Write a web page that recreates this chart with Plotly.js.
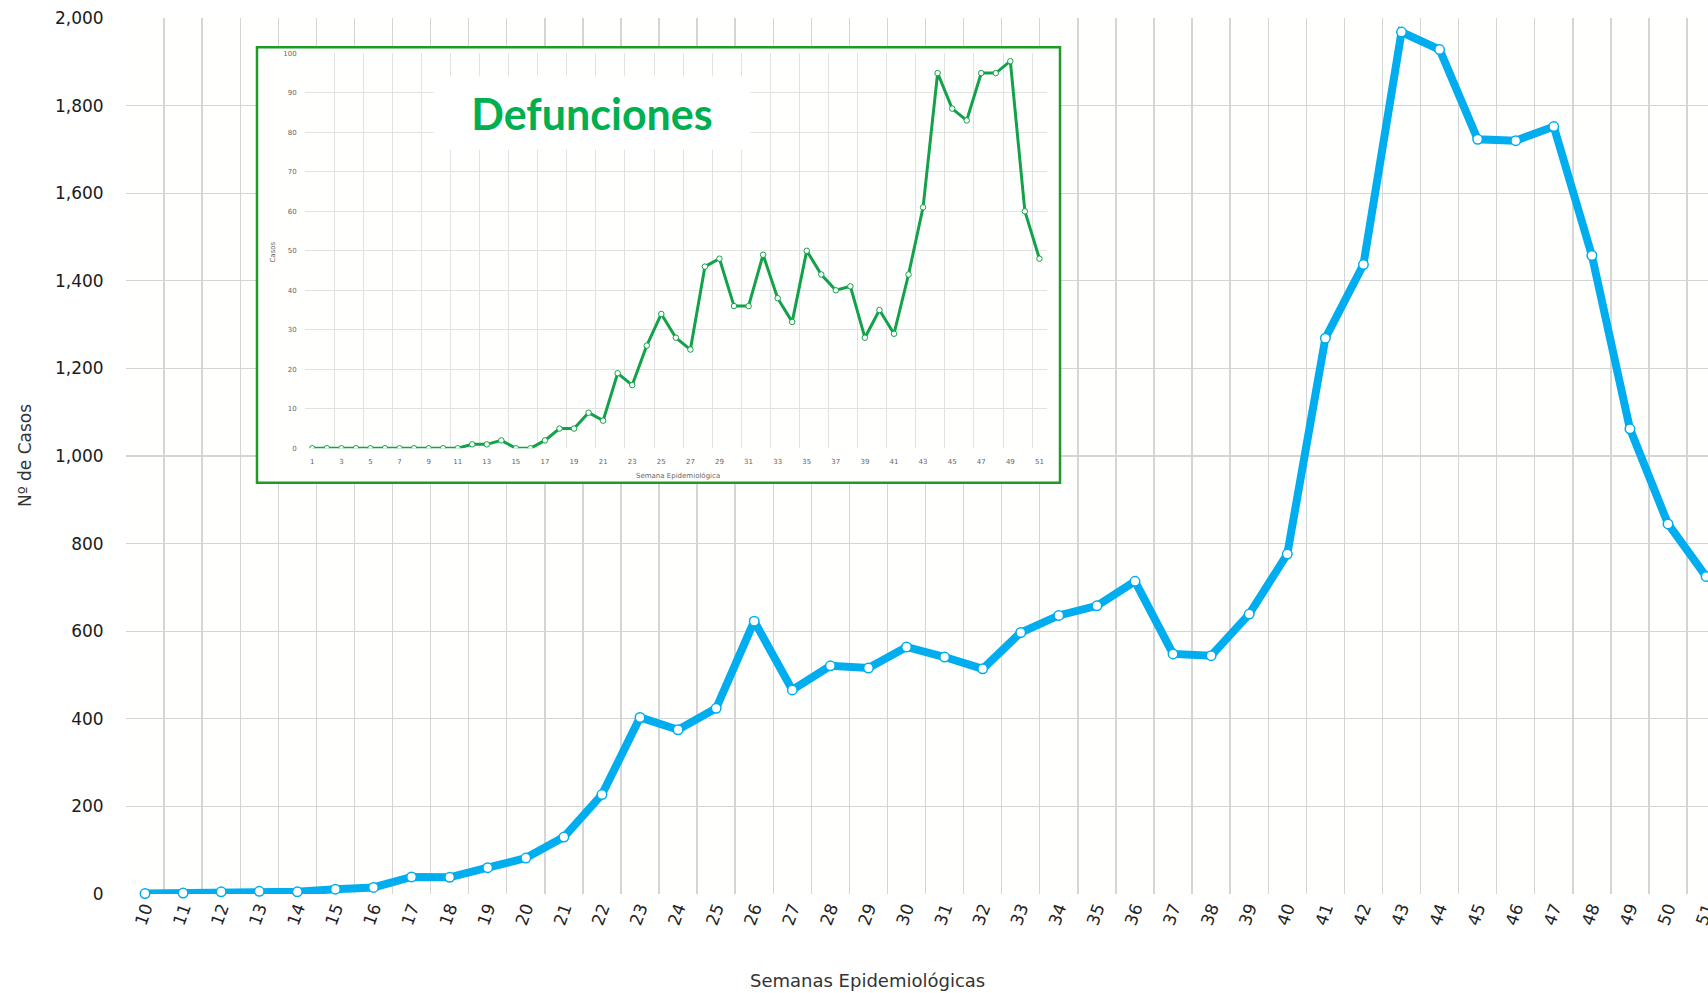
<!DOCTYPE html>
<html>
<head>
<meta charset="utf-8">
<script src="https://cdn.plot.ly/plotly-3.0.1.min.js"></script>
<style>html,body{margin:0;padding:0;background:#fff;}#chart{width:1708px;height:993px;}</style>
</head>
<body>
<div id="chart"></div>
<script>
// ---- Main chart data: cases per epidemiological week ----
var weeks = ["10","11","12","13","14","15","16","17","18","19","20","21","22","23","24","25","26","27","28","29","30","31","32","33","34","35","36","37","38","39","40","41","42","43","44","45","46","47","48","49","50","51"];
var cases = [1,2,5,6,5,11,15,39,38,60,82,130,227,403,375,424,623,466,521,516,564,541,514,597,636,658,714,548,544,639,776,1269,1437,1968,1928,1723,1720,1752,1458,1062,845,725];

// ---- Inset data: deaths per epidemiological week ----
var deathWeeks = [1,2,3,4,5,6,7,8,9,10,11,12,13,14,15,16,17,18,19,20,21,22,23,24,25,26,27,28,29,30,31,32,33,34,35,36,37,38,39,40,41,42,43,44,45,46,47,48,49,50,51];
var deaths = [0,0,0,0,0,0,0,0,0,0,0,1,1,2,0,0,2,5,5,9,7,19,16,26,34,28,25,46,48,36,36,49,38,32,50,44,40,41,28,35,29,44,61,95,86,83,95,95,98,60,48];
var deathTickLabels = ["1","3","5","7","9","11","13","15","17","19","21","23","25","27","29","31","33","35","37","39","41","43","45","47","49","51"];

var titleMain = "Semanas Epidemiológicas";
var titleY = "Nº de Casos";
var insetTitle = "Defunciones";
var insetX = "Semana Epidemiológica";
var insetY = "Casos";

// inset tick positions (labels on odd weeks, grid on boundaries)
var insetLabelVals = deathTickLabels.map(Number);
var insetGridVals = insetLabelVals.map(function(v){ return v - 0.5; });
insetGridVals.push(51.5);

var blue = "#00ADEE";
var green = "#12A24A";

var traces = [
  {
    x: weeks, y: cases, xaxis: "x", yaxis: "y",
    type: "scatter", mode: "lines+markers",
    line: {color: blue, width: 8},
    marker: {color: "#ffffff", size: 9.5, line: {color: blue, width: 1.5}},
    hoverinfo: "x+y", showlegend: false, cliponaxis: false
  },
  { // cover box for the inset
    x: [0], y: [0], xaxis: "x2", yaxis: "y2", type: "scatter", mode: "markers",
    marker: {opacity: 0}, hoverinfo: "skip", showlegend: false
  },
  {
    x: deathWeeks, y: deaths, xaxis: "x3", yaxis: "y3",
    type: "scatter", mode: "lines+markers",
    line: {color: green, width: 3},
    marker: {color: "#ffffff", size: 5.5, line: {color: green, width: 1}},
    hoverinfo: "x+y", showlegend: false
  },
  {
    x: [1], y: [0], xaxis: "x4", yaxis: "y3", type: "scatter", mode: "markers",
    marker: {opacity: 0}, hoverinfo: "skip", showlegend: false
  }
];

var layout = {
  width: 1708, height: 993,
  margin: {l: 126, r: 0, t: 18, b: 99, pad: 0},
  paper_bgcolor: "#ffffff",
  plot_bgcolor: "#fffffe",
  font: {family: "DejaVu Sans, sans-serif", color: "#222"},
  showlegend: false,
  xaxis: {
    type: "category", range: [-0.5, 41.05],
    tickmode: "linear", tick0: 0, dtick: 1,
    tickson: "boundaries",
    showgrid: true, gridcolor: "#d5d5d5", gridwidth: 1.4,
    zeroline: false, showline: false,
    ticks: "outside", ticklen: 6, tickcolor: "rgba(0,0,0,0)",
    tickangle: -70,
    tickfont: {family: "DejaVu Sans, sans-serif", size: 17, color: "#222"},
    automargin: false, fixedrange: true
  },
  yaxis: {
    range: [0, 2000], tickmode: "linear", tick0: 0, dtick: 200,
    tickformat: ",d",
    showgrid: true, gridcolor: "#d5d5d5", gridwidth: 1.4,
    zeroline: false, showline: false,
    ticks: "outside", ticklen: 18, tickcolor: "rgba(0,0,0,0)",
    tickfont: {family: "DejaVu Sans, sans-serif", size: 17, color: "#1a1a1a"},
    automargin: false, fixedrange: true
  },
  xaxis2: {domain: [0.0828, 0.5904], anchor: "y2", range: [0, 1], visible: false, fixedrange: true},
  yaxis2: {domain: [0.4695, 0.9666], anchor: "x2", range: [0, 1], visible: false, fixedrange: true},
  xaxis3: {
    domain: [0.11315, 0.58198], anchor: "y3", range: [0.5, 51.5],
    tickmode: "array", tickvals: insetGridVals, showticklabels: false,
    showgrid: true, gridcolor: "#e2e2e2", gridwidth: 1,
    zeroline: false, showline: false, ticks: "", fixedrange: true
  },
  xaxis4: {
    overlaying: "x3", anchor: "y3", range: [0.5, 51.5],
    tickmode: "array", tickvals: insetLabelVals, ticktext: deathTickLabels,
    showgrid: false, zeroline: false, showline: false,
    ticks: "outside", ticklen: 6, tickcolor: "rgba(0,0,0,0)",
    tickfont: {family: "DejaVu Sans, sans-serif", size: 7, color: "#666"},
    fixedrange: true
  },
  yaxis3: {
    domain: [0.5088, 0.9597], anchor: "x3", range: [0, 100],
    tickmode: "linear", tick0: 0, dtick: 10,
    showgrid: true, gridcolor: "#e2e2e2", gridwidth: 1,
    zeroline: false, showline: false,
    ticks: "outside", ticklen: 6, tickcolor: "rgba(0,0,0,0)",
    tickfont: {family: "DejaVu Sans, sans-serif", size: 7, color: "#666"},
    fixedrange: true
  },
  shapes: [
    {type: "rect", xref: "paper", yref: "paper", x0: 0.0828, x1: 0.5904, y0: 0.4695, y1: 0.9666,
     line: {color: "#1E9B27", width: 2.5}, fillcolor: "rgba(0,0,0,0)", layer: "above"}
  ],
  annotations: [
    {text: titleMain, xref: "paper", yref: "paper", x: 0.469, y: -0.0993,
     xanchor: "center", yanchor: "middle", showarrow: false,
     font: {family: "DejaVu Sans, sans-serif", size: 18, color: "#333"}},
    {text: titleY, xref: "paper", yref: "paper", x: -0.0638, y: 0.5,
     xanchor: "center", yanchor: "middle", showarrow: false, textangle: -90,
     font: {family: "DejaVu Sans, sans-serif", size: 17, color: "#333"}},
    {text: "<b>" + insetTitle + "</b>", xref: "paper", yref: "paper", x: 0.2946, y: 0.8921,
     xanchor: "center", yanchor: "middle", showarrow: false,
     width: 316, height: 72, bgcolor: "#ffffff", borderpad: 0,
     font: {family: "Lato, sans-serif", size: 43, color: "#00AF50"}},
    {text: insetX, xref: "paper", yref: "paper", x: 0.3491, y: 0.4772,
     xanchor: "center", yanchor: "middle", showarrow: false,
     font: {family: "DejaVu Sans, sans-serif", size: 7, color: "#666"}},
    {text: insetY, xref: "paper", yref: "paper", x: 0.0928, y: 0.7332,
     xanchor: "center", yanchor: "middle", showarrow: false, textangle: -90,
     font: {family: "DejaVu Sans, sans-serif", size: 7, color: "#666"}}
  ]
};

Plotly.newPlot("chart", traces, layout, {displayModeBar: false, staticPlot: true});
</script>
</body>
</html>
